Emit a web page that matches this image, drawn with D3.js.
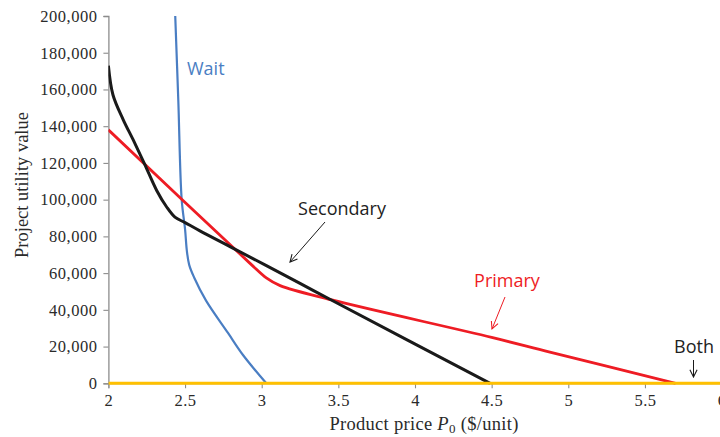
<!DOCTYPE html>
<html>
<head>
<meta charset="utf-8">
<script src="https://cdn.jsdelivr.net/npm/d3@7"></script>
<style>
  html, body { margin: 0; padding: 0; background: #fff; }
  svg { display: block; }
</style>
</head>
<body>
<svg id="chart" width="720" height="437"></svg>
<script>
// ---- data ----
const xTicks = [2, 2.5, 3, 3.5, 4, 4.5, 5, 5.5, 6];
const yTicks = [0, 20000, 40000, 60000, 80000, 100000, 120000, 140000, 160000, 180000, 200000];

const priceWait = [2.436, 2.456, 2.478, 2.50, 2.512, 2.527, 2.56, 2.637, 2.78, 2.878, 3.03];
const valueWait = [200000, 154000, 100000, 84000, 72000, 64500, 57500, 45000, 27400, 15400, 0];

const priceSecondary = [2.0, 2.03, 2.097, 2.162, 2.234, 2.315, 2.38, 2.434, 2.50, 2.597, 2.815, 3.25, 3.457, 4.49];
const valueSecondary = [173000, 157000, 143500, 132500, 119800, 105000, 96000, 90500, 87500, 83000, 73500, 54400, 45200, 0];

const pricePrimary = [2.0, 2.924, 3.03, 3.12, 3.457, 4.5, 4.88, 5.70];
const valuePrimary = [138000, 65300, 57400, 53200, 45400, 25000, 17000, 0];

const priceBoth = [2, 6];
const valueBoth = [0, 0];

// ---- chart ----
const svg = d3.select("#chart");
const x = d3.scaleLinear().domain([2, 6]).range([108.4, 721.6]);
const y = d3.scaleLinear().domain([0, 200000]).range([383.3, 16]);

const serif = "'Liberation Serif', 'Times New Roman', serif";
const sans = "'Open Sans', 'Noto Sans', sans-serif";

// y axis
const yAxis = svg.append("g").attr("transform", `translate(${x(2)},0)`)
  .call(d3.axisLeft(y).tickValues(yTicks).tickSize(5).tickPadding(6).tickFormat(d3.format(",")));
yAxis.select(".domain").attr("stroke", "#8c8c8c").attr("stroke-width", 1.3);
yAxis.selectAll(".tick line").attr("stroke", "#8c8c8c").attr("stroke-width", 1.1);
yAxis.selectAll("text").attr("font-family", serif).attr("font-size", 16.5)
  .attr("letter-spacing", 0.5).attr("fill", "#2a2a2a");

// x axis
const xAxis = svg.append("g").attr("transform", `translate(0,${y(0)})`)
  .call(d3.axisBottom(x).tickValues(xTicks).tickSize(5).tickPadding(6).tickFormat(d => String(d)));
xAxis.select(".domain").attr("stroke", "#8c8c8c");
xAxis.selectAll(".tick line").attr("stroke", "#8c8c8c").attr("stroke-width", 1.1);
xAxis.selectAll("text").attr("font-family", serif).attr("font-size", 16.5)
  .attr("letter-spacing", 0.5).attr("fill", "#2a2a2a");

// axis titles
svg.append("text")
  .attr("transform", "translate(28,185) rotate(-90)")
  .attr("text-anchor", "middle")
  .attr("font-family", serif).attr("font-size", 18.5).attr("fill", "#2a2a2a")
  .text("Project utility value");

const xl = svg.append("text")
  .attr("x", 424).attr("y", 430)
  .attr("text-anchor", "middle")
  .attr("font-family", serif).attr("font-size", 18.5).attr("letter-spacing", 0.3).attr("fill", "#2a2a2a");
xl.append("tspan").text("Product price ");
xl.append("tspan").attr("font-style", "italic").text("P");
xl.append("tspan").attr("font-size", 13).attr("dy", 3).text("0");
xl.append("tspan").attr("dy", -3).text(" ($/unit)");

// clip
svg.append("clipPath").attr("id", "plot")
  .append("rect").attr("x", x(2)).attr("y", y(200000)).attr("width", 720 - x(2)).attr("height", y(0) - y(200000) + 3);

const line = d3.line().x(d => x(d[0])).y(d => y(d[1])).curve(d3.curveCatmullRom.alpha(0.5));
const plot = svg.append("g").attr("clip-path", "url(#plot)");

function series(px, vy, color, width) {
  plot.append("path")
    .datum(px.map((p, i) => [p, vy[i]]))
    .attr("d", line)
    .attr("fill", "none")
    .attr("stroke", color)
    .attr("stroke-width", width)
    .attr("stroke-linejoin", "round");
}
series(priceWait, valueWait, "#4a7ec3", 2.2);
series(pricePrimary, valuePrimary, "#ee1c24", 2.8);
series(priceSecondary, valueSecondary, "#1a1a1a", 3);
series(priceBoth, valueBoth, "#ffc000", 3);

// arrow marker
const defs = svg.append("defs");
function marker(id, color) {
  defs.append("marker").attr("id", id)
    .attr("viewBox", "0 0 10 10").attr("refX", 9).attr("refY", 5)
    .attr("markerWidth", 9).attr("markerHeight", 9).attr("orient", "auto")
    .attr("markerUnits", "userSpaceOnUse")
    .append("path").attr("d", "M1,1 L9,5 L1,9").attr("fill", "none")
    .attr("stroke", color).attr("stroke-width", 1.2);
}
marker("arrK", "#1a1a1a");
marker("arrR", "#ee1c24");

function arrow(x1, y1, x2, y2, color, m) {
  svg.append("line").attr("x1", x1).attr("y1", y1).attr("x2", x2).attr("y2", y2)
    .attr("stroke", color).attr("stroke-width", 1).attr("marker-end", `url(#${m})`);
}

// annotations
svg.append("text").attr("x", 187).attr("y", 75)
  .attr("font-family", sans).attr("font-size", 18).attr("fill", "#4a7ec3").text("Wait");

svg.append("text").attr("x", 342).attr("y", 215).attr("text-anchor", "middle")
  .attr("font-family", sans).attr("font-size", 18).attr("fill", "#222").text("Secondary");
arrow(325, 222, 290, 262, "#1a1a1a", "arrK");

svg.append("text").attr("x", 507).attr("y", 287).attr("text-anchor", "middle")
  .attr("font-family", sans).attr("font-size", 18).attr("fill", "#ee1c24").text("Primary");
arrow(505, 297, 492, 329, "#ee1c24", "arrR");

svg.append("text").attr("x", 694).attr("y", 353).attr("text-anchor", "middle")
  .attr("font-family", sans).attr("font-size", 18).attr("fill", "#222").text("Both");
arrow(693.5, 360, 693.5, 377, "#1a1a1a", "arrK");
</script>
</body>
</html>
